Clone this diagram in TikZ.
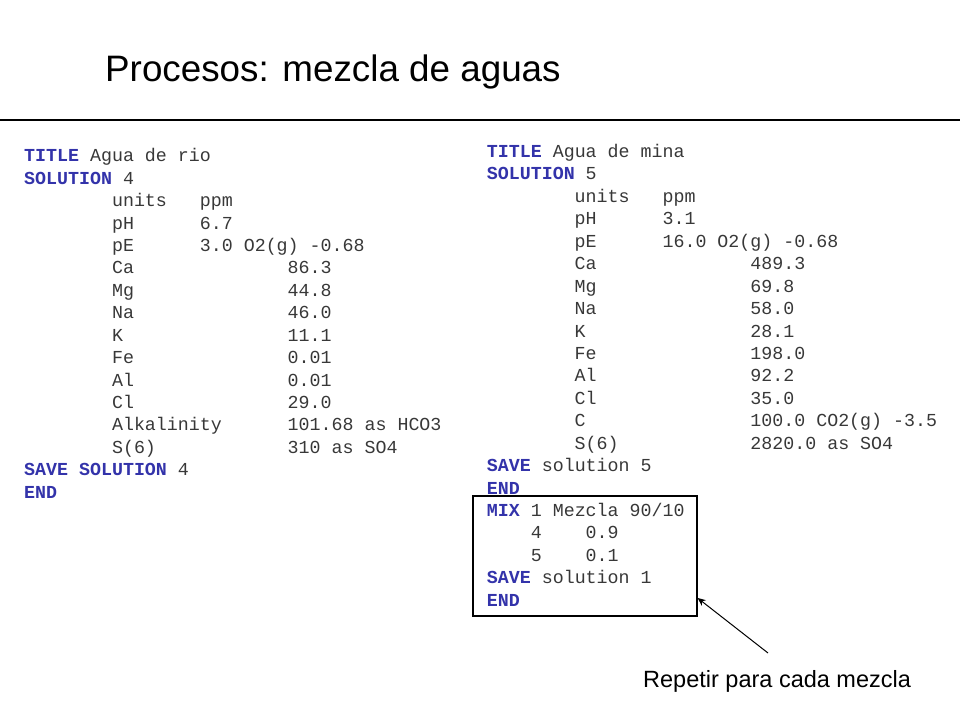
\documentclass[tikz,border=0pt]{standalone}
\usepackage{xcolor}
\usepackage{fontspec}
\setmainfont{Liberation Sans}
\setmonofont{Liberation Mono}
\usetikzlibrary{arrows.meta,positioning}

\definecolor{kwblue}{RGB}{51,51,170}
\newlength\chw
\setlength\chw{10.98pt}
\newcommand{\kw}[1]{\textcolor{kwblue}{\bfseries #1}}
\newcommand{\tabA}[2]{\hspace*{8\chw}\makebox[8\chw][l]{#1}#2}
\newcommand{\tabB}[2]{\hspace*{8\chw}\makebox[16\chw][l]{#1}#2}

\begin{document}
\begin{tikzpicture}[x=1pt,y=-1pt,
  code/.style={font=\ttfamily\fontsize{18.3}{22}\selectfont, text=black!78, inner sep=0pt, anchor=base west},
  note/.style={font=\fontsize{23.5}{26}\selectfont, inner sep=0pt, anchor=base west}]
  \useasboundingbox (0,0) rectangle (960,720);

  \node[font=\fontsize{36.8}{40}\selectfont, inner sep=0pt, anchor=base west] (title) at (105,81) {Procesos: mezcla de aguas};
  \draw[line width=1.5pt] (0,120) -- (960,120);

  % agua de rio
  \foreach \row [count=\i from 0] in {
      {\kw{TITLE} Agua de rio},
      {\kw{SOLUTION} 4},
      {\tabA{units}{ppm}},
      {\tabA{pH}{6.7}},
      {\tabA{pE}{3.0 O2(g) -0.68}},
      {\tabB{Ca}{86.3}},
      {\tabB{Mg}{44.8}},
      {\tabB{Na}{46.0}},
      {\tabB{K}{11.1}},
      {\tabB{Fe}{0.01}},
      {\tabB{Al}{0.01}},
      {\tabB{Cl}{29.0}},
      {\tabB{Alkalinity}{101.68 as HCO3}},
      {\tabB{S(6)}{310 as SO4}},
      {\kw{SAVE SOLUTION} 4},
      {\kw{END}}}
    \node[code] (rio\i) at (24,{161.7+22.44*\i}) {\row};

  % agua de mina + mezcla
  \foreach \row [count=\i from 0] in {
      {\kw{TITLE} Agua de mina},
      {\kw{SOLUTION} 5},
      {\tabA{units}{ppm}},
      {\tabA{pH}{3.1}},
      {\tabA{pE}{16.0 O2(g) -0.68}},
      {\tabB{Ca}{489.3}},
      {\tabB{Mg}{69.8}},
      {\tabB{Na}{58.0}},
      {\tabB{K}{28.1}},
      {\tabB{Fe}{198.0}},
      {\tabB{Al}{92.2}},
      {\tabB{Cl}{35.0}},
      {\tabB{C}{100.0 CO2(g) -3.5}},
      {\tabB{S(6)}{2820.0 as SO4}},
      {\kw{SAVE} solution 5},
      {\kw{END}},
      {\kw{MIX} 1 Mezcla 90/10},
      {\hspace*{4\chw}4\hspace*{4\chw}0.9},
      {\hspace*{4\chw}5\hspace*{4\chw}0.1},
      {\kw{SAVE} solution 1},
      {\kw{END}}}
    \node[code] (mina\i) at (486.7,{157.5+22.44*\i}) {\row};

  \node[draw, line width=1.2pt, minimum width=224pt, minimum height=120pt, inner sep=0pt] (mixbox) at (585,556) {};

  \node[note] (repetir) at (643,687) {Repetir para cada mezcla};
  \coordinate (tail) at (768,653);
  \coordinate (tip) at (mixbox.east |- 0,598);
  \draw[line width=1pt, -{Stealth[length=8pt,width=7pt]}] (tail) -- (tip);
\end{tikzpicture}
\end{document}
